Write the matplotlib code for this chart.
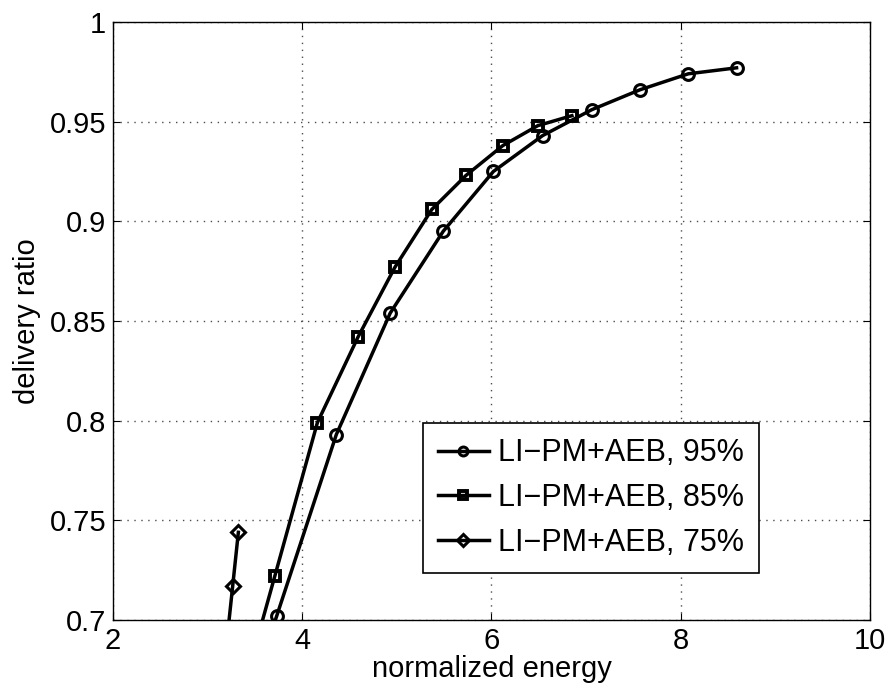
import matplotlib
matplotlib.use('Agg')
import matplotlib.pyplot as plt

plt.rcParams['font.family'] = ['Liberation Sans', 'DejaVu Sans']

# procitane vrednosti sa grafika (prva tacka svake serije je ispod 0.7, odsecena)
energija_95 = [3.15, 3.73, 4.36, 4.93, 5.49, 6.02, 6.54, 7.06, 7.57, 8.08, 8.59]
odnos_95 = [0.618, 0.702, 0.793, 0.854, 0.895, 0.925, 0.943, 0.956, 0.966, 0.974, 0.977]

energija_85 = [3.30, 3.71, 4.16, 4.59, 4.98, 5.37, 5.73, 6.12, 6.49, 6.85]
odnos_85 = [0.652, 0.722, 0.799, 0.842, 0.877, 0.906, 0.923, 0.938, 0.948, 0.953]

energija_75 = [3.20, 3.265, 3.325]
odnos_75 = [0.688, 0.717, 0.744]

labele = ['LI\u2212PM+AEB, 95%', 'LI\u2212PM+AEB, 85%', 'LI\u2212PM+AEB, 75%']
x_ticks = [2, 4, 6, 8, 10]
y_ticks = [0.7, 0.75, 0.8, 0.85, 0.9, 0.95, 1]
y_tick_labels = ['0.7', '0.75', '0.8', '0.85', '0.9', '0.95', '1']

fig = plt.figure(figsize=(8.91, 6.91), dpi=100)
ax = fig.add_axes([0.1268, 0.1027, 0.8496, 0.8655])

ax.plot(energija_95, odnos_95, 'k-o', linewidth=2.5, markersize=8.5, markeredgewidth=2.2,
        markerfacecolor='none', label=labele[0])
ax.plot(energija_85, odnos_85, 'k-s', linewidth=2.5, markersize=7.5, markeredgewidth=2.8,
        markerfacecolor='none', label=labele[1])
ax.plot(energija_75, odnos_75, 'k-D', linewidth=2.5, markersize=7.5, markeredgewidth=2.2,
        markerfacecolor='none', label=labele[2])

ax.set_xlim(2, 10)
ax.set_ylim(0.7, 1)
ax.set_xticks(x_ticks)
ax.set_yticks(y_ticks)
ax.set_yticklabels(y_tick_labels)
ax.tick_params(direction='in', length=5, width=0.8, top=True, right=True, labelsize=21, pad=5)
ax.grid(True, linestyle=(0, (1, 4)), color='0.3', linewidth=1.0)
for s in ax.spines.values():
    s.set_linewidth(1.0)

ax.set_xlabel('normalized energy', fontsize=21, labelpad=0)
ax.set_ylabel('delivery ratio', fontsize=21, labelpad=6)

leg = ax.legend(loc='lower left', bbox_to_anchor=(0.4095, 0.0786), fontsize=22, handlelength=1.65,
                handletextpad=0.3, borderpad=0.5, labelspacing=0.48, fancybox=False, framealpha=1,
                borderaxespad=0, markerscale=0.75)
leg.get_frame().set_edgecolor('black')
leg.get_frame().set_linewidth(1.2)

fig.savefig('out.png', dpi=100)
